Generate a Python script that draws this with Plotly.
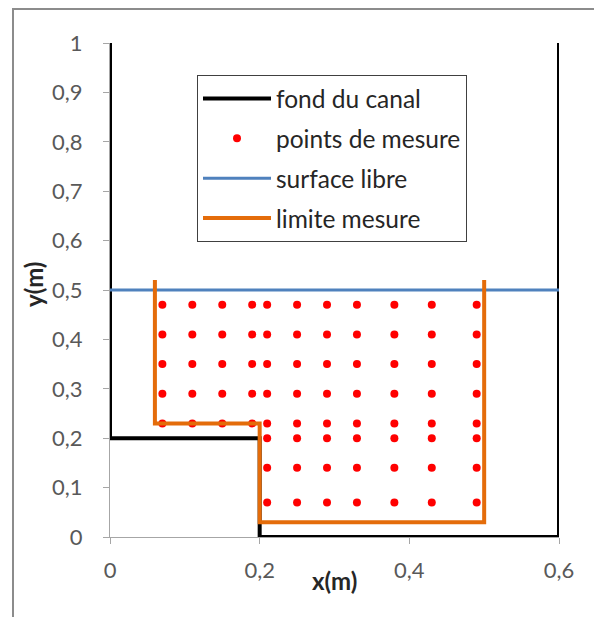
import plotly.graph_objects as go

# fond du canal (channel bed outline)
bed_x = [0, 0, 0.2, 0.2, 0.6, 0.6]
bed_y = [1, 0.2, 0.2, 0, 0, 1]

# surface libre
surf_x = [0, 0.6]
surf_y = [0.5, 0.5]

# limite mesure
lim_x = [0.06, 0.06, 0.2, 0.2, 0.5, 0.5]
lim_y = [0.52, 0.23, 0.23, 0.03, 0.03, 0.52]

# points de mesure: columns above the step and columns past the step
cols_step = [0.07, 0.11, 0.15, 0.19]
rows_step = [0.47, 0.41, 0.35, 0.29, 0.23]
cols_main = [0.21, 0.25, 0.29, 0.33, 0.38, 0.43, 0.49]
rows_main = [0.47, 0.41, 0.35, 0.29, 0.23, 0.20, 0.14, 0.07]

pts_x = [c for c in cols_step for r in rows_step] + [c for c in cols_main for r in rows_main]
pts_y = [r for c in cols_step for r in rows_step] + [r for c in cols_main for r in rows_main]

FONT = "Lato"
OFF = 8  # page body margin
W, H = 586, 609
L, R, T, B = 102, 35, 35, 80

fig = go.Figure()
fig.add_trace(go.Scatter(x=bed_x, y=bed_y, mode="lines", name="fond du canal",
                         line=dict(color="black", width=4), legendgroup="a"))
fig.add_trace(go.Scatter(x=pts_x, y=pts_y, mode="markers", name="points de mesure",
                         marker=dict(color="#FF0000", size=8), legendgroup="b"))
fig.add_trace(go.Scatter(x=surf_x, y=surf_y, mode="lines", name="surface libre",
                         line=dict(color="#4F81BD", width=3), legendgroup="c"))
fig.add_trace(go.Scatter(x=lim_x, y=lim_y, mode="lines", name="limite mesure",
                         line=dict(color="#E46C0A", width=4), legendgroup="d"))

pw = W - L - R
ph = H - T - B

def px2paper_x(px):
    return (px - OFF - L) / pw

def px2paper_y(py):
    return (H - B - (py - OFF)) / ph

bx0, by_top, bx1, by_bot = px2paper_x(13), px2paper_y(9), px2paper_x(660), px2paper_y(680)
border_path = f"M {bx0},{by_bot} L {bx0},{by_top} L {bx1},{by_top}"

fig.update_layout(
    width=W, height=H,
    margin=dict(l=L, r=R, t=T, b=B, pad=0),
    paper_bgcolor="white", plot_bgcolor="white",
    separators=", ",
    font=dict(family=FONT, size=16, color="#404040"),
    showlegend=True,
    legend=dict(
        x=px2paper_x(197), y=px2paper_y(75), xanchor="left", yanchor="top",
        bordercolor="#404040", borderwidth=1, bgcolor="white",
        font=dict(family=FONT, size=24.5, color="#262626"),
        tracegroupgap=5, itemwidth=68,
    ),
    xaxis=dict(range=[0, 0.6], tickvals=[0, 0.2, 0.4, 0.6], showgrid=False, zeroline=False,
               showline=True, linecolor="#A6A6A6", linewidth=1, ticks="outside",
               ticklen=6, tickcolor="#A6A6A6", ticklabelstandoff=8,
               tickfont=dict(family=FONT, size=22, color="#595959")),
    yaxis=dict(range=[0, 1], dtick=0.1, tick0=0, showgrid=False, zeroline=False,
               showline=True, linecolor="#A6A6A6", linewidth=1, ticks="outside",
               ticklen=6, tickcolor="#A6A6A6", ticklabelstandoff=16,
               tickfont=dict(family=FONT, size=22, color="#595959")),
    annotations=[
        dict(text="<b>x(m)</b>", x=0.3, xref="x", y=px2paper_y(580), yref="paper",
             showarrow=False, font=dict(family=FONT, size=24, color="#262626"),
             xanchor="center", yanchor="middle"),
        dict(text="<b>y(m)</b>", x=px2paper_x(33), xref="paper", y=px2paper_y(285), yref="paper",
             showarrow=False, textangle=-90, font=dict(family=FONT, size=24, color="#262626"),
             xanchor="center", yanchor="middle"),
    ],
    shapes=[
        dict(type="path", xref="paper", yref="paper", path=border_path,
             line=dict(color="#8C8C8C", width=2), layer="below"),
    ],
)

fig.write_html("out.html")
